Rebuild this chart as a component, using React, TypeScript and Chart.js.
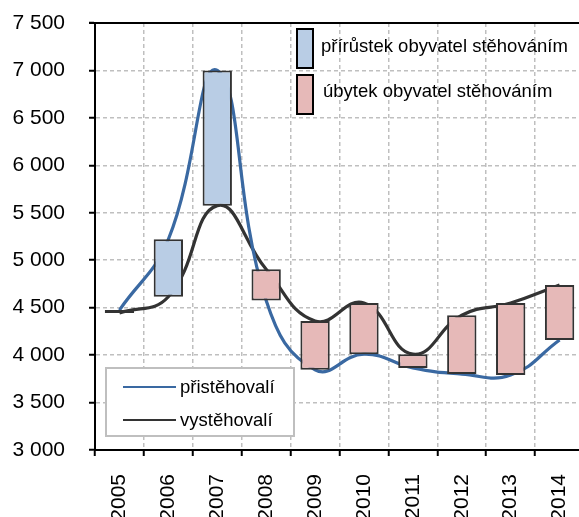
import React, { useEffect, useRef } from "react";
import { Chart, registerables } from "chart.js";

Chart.register(...registerables);

// ---- data ----
const years = ["2005", "2006", "2007", "2008", "2009", "2010", "2011", "2012", "2013", "2014"];
const immigrants = [4475, 5220, 7000, 4575, 3845, 4010, 3865, 3800, 3790, 4160];
const emigrants = [4445, 4615, 5575, 4905, 4360, 4550, 4010, 4420, 4550, 4740];
const yMin = 3000;
const yMax = 7500;
const yStep = 500;
const lineLabels = ["přistěhovalí", "vystěhovalí"];
const barLabels = ["přírůstek obyvatel stěhováním", "úbytek obyvatel stěhováním"];

const increaseBars = years.map((_, i) =>
  immigrants[i] >= emigrants[i] ? [emigrants[i], immigrants[i]] : null
);
const decreaseBars = years.map((_, i) =>
  immigrants[i] < emigrants[i] ? [immigrants[i], emigrants[i]] : null
);

const FONT = "'Liberation Sans', Arial, sans-serif";
const BLUE_LINE = "#3A69A2";
const DARK_LINE = "#333333";
const BLUE_FILL = "#B9CDE5";
const PINK_FILL = "#E6B9B8";
const GRID = "#BFBFBF";

const fmt = (v: number) => {
  const s = String(Math.round(v));
  return s.length > 3 ? s.slice(0, s.length - 3) + " " + s.slice(-3) : s;
};

const overlayPlugin = {
  id: "overlay",
  afterDraw(chart: any) {
    const ctx = chart.ctx as CanvasRenderingContext2D;
    const a = chart.chartArea;
    ctx.save();
    // top border of plot
    ctx.strokeStyle = "#000";
    ctx.lineWidth = 2;
    ctx.beginPath();
    ctx.moveTo(a.left - 6, a.top);
    ctx.lineTo(a.right, a.top);
    ctx.stroke();

    // lower-left legend (lines)
    ctx.fillStyle = "#fff";
    ctx.fillRect(106, 368, 188, 68);
    ctx.strokeStyle = GRID;
    ctx.lineWidth = 2;
    ctx.strokeRect(106, 368, 188, 68);
    ctx.font = `18.5px ${FONT}`;
    ctx.textBaseline = "middle";
    ctx.textAlign = "left";
    const lineColors = [BLUE_LINE, DARK_LINE];
    const lineYs = [387, 420];
    lineLabels.forEach((lab, i) => {
      ctx.strokeStyle = lineColors[i];
      ctx.lineWidth = 2;
      ctx.beginPath();
      ctx.moveTo(123, lineYs[i]);
      ctx.lineTo(176, lineYs[i]);
      ctx.stroke();
      ctx.fillStyle = "#000";
      ctx.fillText(lab, 180, lineYs[i] + 1);
    });

    // upper-right legend (bars)
    const fills = [BLUE_FILL, PINK_FILL];
    const boxYs = [29, 75];
    const textYs = [47, 92];
    barLabels.forEach((lab, i) => {
      ctx.fillStyle = fills[i];
      ctx.fillRect(297, boxYs[i], 16, 39);
      ctx.strokeStyle = "#000";
      ctx.lineWidth = 2;
      ctx.strokeRect(297, boxYs[i], 16, 39);
      ctx.fillStyle = "#000";
      ctx.fillText(lab, 321 + i * 2, textYs[i]);
    });
    ctx.restore();
  },
};

export default function App() {
  const ref = useRef<HTMLCanvasElement | null>(null);

  useEffect(() => {
    if (!ref.current) return;
    const chart = new Chart(ref.current, {
      type: "bar",
      data: {
        labels: years,
        datasets: [
          {
            type: "bar",
            label: barLabels[0],
            data: increaseBars as any,
            backgroundColor: BLUE_FILL,
            borderColor: DARK_LINE,
            borderWidth: 2,
            borderSkipped: false,
            grouped: false,
            barPercentage: 0.6,
            categoryPercentage: 1,
            order: 1,
          } as any,
          {
            type: "bar",
            label: barLabels[1],
            data: decreaseBars as any,
            backgroundColor: PINK_FILL,
            borderColor: DARK_LINE,
            borderWidth: 2,
            borderSkipped: false,
            grouped: false,
            barPercentage: 0.6,
            categoryPercentage: 1,
            order: 1,
          } as any,
          {
            type: "line",
            label: lineLabels[0],
            data: immigrants,
            borderColor: BLUE_LINE,
            borderWidth: 3.2,
            tension: 0.45,
            pointRadius: 0,
            fill: false,
            order: 2,
          } as any,
          {
            type: "line",
            label: lineLabels[1],
            data: emigrants,
            borderColor: DARK_LINE,
            borderWidth: 3.2,
            tension: 0.45,
            pointRadius: 0,
            fill: false,
            order: 2,
          } as any,
        ],
      },
      options: {
        responsive: false,
        animation: false,
        layout: { padding: { top: 23, right: 4, left: 0, bottom: 0 } },
        plugins: {
          legend: { display: false },
          tooltip: { enabled: false },
        },
        scales: {
          x: {
            type: "category",
            offset: true,
            grid: {
              offset: true,
              color: GRID,
              lineWidth: 1.5,
              tickColor: "#000",
              tickLength: 6,
              tickWidth: 2,
            },
            border: { display: true, color: "#000", width: 2, dash: [4, 3] },
            ticks: {
              minRotation: 90,
              maxRotation: 90,
              padding: 18,
              color: "#000",
              font: { family: FONT, size: 21 },
            },
            afterFit: (s: any) => {
              s.height = 67;
            },
          },
          y: {
            min: yMin,
            max: yMax,
            grid: {
              color: GRID,
              lineWidth: 1.5,
              tickColor: "#000",
              tickLength: 6,
              tickWidth: 2,
            },
            border: { display: true, color: "#000", width: 2, dash: [4, 3] },
            ticks: {
              stepSize: yStep,
              padding: 24,
              color: "#000",
              font: { family: FONT, size: 21 },
              callback: (v: any) => fmt(Number(v)),
            },
            afterFit: (s: any) => {
              s.width = 95;
              s.paddingTop = 0;
              s.paddingBottom = 0;
            },
          },
        },
      } as any,
      plugins: [overlayPlugin],
    });
    return () => chart.destroy();
  }, []);

  return (
    <div
      style={{
        position: "absolute",
        left: 0,
        top: 0,
        width: 579,
        height: 517,
        overflow: "hidden",
        background: "#fff",
      }}
    >
      <canvas ref={ref} width={603} height={517} style={{ display: "block" }} />
    </div>
  );
}
